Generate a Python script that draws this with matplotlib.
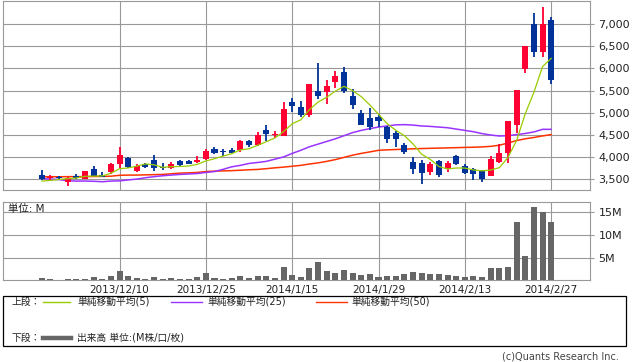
import matplotlib
matplotlib.use('Agg')
import matplotlib.pyplot as plt
from matplotlib.lines import Line2D
from matplotlib.patches import Rectangle
import numpy as np

plt.rcParams['font.family'] = ['DejaVu Sans', 'Noto Sans CJK JP']

# ---------------- data ----------------
dates = ['2013/11/27', '2013/11/28', '2013/11/29',
         '2013/12/2', '2013/12/3', '2013/12/4', '2013/12/5', '2013/12/6', '2013/12/9', '2013/12/10',
         '2013/12/11', '2013/12/12', '2013/12/13', '2013/12/16', '2013/12/17', '2013/12/18', '2013/12/19',
         '2013/12/20', '2013/12/24', '2013/12/25', '2013/12/26', '2013/12/27', '2013/12/30',
         '2014/1/6', '2014/1/7', '2014/1/8', '2014/1/9', '2014/1/10', '2014/1/14', '2014/1/15',
         '2014/1/16', '2014/1/17', '2014/1/20', '2014/1/21', '2014/1/22', '2014/1/23', '2014/1/24',
         '2014/1/27', '2014/1/28', '2014/1/29', '2014/1/30', '2014/1/31',
         '2014/2/3', '2014/2/4', '2014/2/5', '2014/2/6', '2014/2/7', '2014/2/10', '2014/2/12', '2014/2/13',
         '2014/2/14', '2014/2/17', '2014/2/18', '2014/2/19', '2014/2/20', '2014/2/21', '2014/2/24',
         '2014/2/25', '2014/2/26', '2014/2/27']

opens = [3590, 3515, 3550, 3425, 3567, 3500, 3718, 3590, 3650, 3844,
         3972, 3687, 3844, 3927, 3777, 3754, 3905, 3905, 3875, 3950,
         4174, 4136, 4159, 4152, 4354, 4264, 4602, 4505, 4473, 5231,
         5119, 4939, 5500, 5478, 5687, 5928, 5388, 4984, 4871, 4894,
         4676, 4550, 4264, 3889, 3853, 3664, 3911, 3725, 4024, 3799,
         3718, 3680, 3567, 3882, 4091, 4714, 5989, 7000, 6362, 7097]
highs = [3700, 3590, 3565, 3545, 3605, 3687, 3800, 3650, 3853, 4226,
         4010, 3830, 3866, 4040, 3853, 3882, 3927, 3920, 4017, 4190,
         4226, 4190, 4204, 4392, 4392, 4563, 4714, 4580, 5238, 5343,
         5253, 5658, 6114, 5748, 5935, 6025, 5539, 5051, 5096, 4977,
         4691, 4586, 4316, 4001, 3927, 3889, 3927, 3905, 4055, 3830,
         3740, 3702, 4024, 4287, 4804, 5523, 6512, 7261, 7389, 7164]
lows = [3489, 3478, 3480, 3350, 3500, 3493, 3567, 3538, 3620, 3740,
        3755, 3664, 3754, 3687, 3702, 3718, 3792, 3830, 3853, 3927,
        4062, 4017, 4078, 4114, 4226, 4242, 4354, 4428, 4473, 5013,
        4900, 4900, 5314, 5202, 5552, 5440, 5089, 4714, 4602, 4675,
        4316, 4226, 4062, 3612, 3388, 3590, 3552, 3664, 3815, 3606,
        3478, 3439, 3560, 3870, 3853, 4541, 5890, 6249, 6249, 5651]
closes = [3500, 3552, 3515, 3530, 3530, 3680, 3575, 3540, 3837, 4040,
          3763, 3792, 3777, 3740, 3754, 3837, 3815, 3830, 3927, 4136,
          4091, 4114, 4100, 4354, 4264, 4489, 4512, 4527, 5074, 5141,
          4939, 5658, 5388, 5613, 5838, 5485, 5164, 4714, 4669, 4804,
          4415, 4406, 4114, 3725, 3642, 3837, 3590, 3853, 3830, 3642,
          3612, 3493, 3943, 4100, 4804, 5523, 6512, 6362, 7000, 5748]

ma5 = [3455, 3470, 3490, 3510, 3525, 3561, 3566, 3571, 3632, 3734,
       3751, 3794, 3842, 3822, 3765, 3780, 3785, 3795, 3833, 3909,
       3960, 4020, 4074, 4159, 4185, 4264, 4344, 4429, 4573, 4749,
       4839, 5068, 5240, 5348, 5487, 5596, 5498, 5363, 5174, 4967,
       4753, 4602, 4482, 4293, 4060, 3945, 3782, 3729, 3750, 3750,
       3705, 3686, 3704, 3758, 3990, 4373, 4976, 5460, 6040, 6229]
ma25 = [3510, 3500, 3490, 3460, 3455, 3455, 3450, 3440, 3455, 3460,
        3480, 3500, 3530, 3555, 3575, 3590, 3605, 3615, 3625, 3650,
        3670, 3720, 3777, 3810, 3853, 3875, 3900, 3950, 4000, 4080,
        4150, 4230, 4290, 4350, 4410, 4480, 4550, 4600, 4640, 4676,
        4700, 4725, 4730, 4720, 4700, 4690, 4675, 4660, 4630, 4600,
        4570, 4527, 4495, 4473, 4480, 4505, 4530, 4565, 4624, 4624]
ma50 = [3552, 3552, 3552, 3555, 3555, 3555, 3558, 3560, 3565, 3585,
        3590, 3590, 3595, 3600, 3605, 3620, 3635, 3640, 3650, 3670,
        3680, 3685, 3690, 3700, 3710, 3718, 3735, 3754, 3770, 3790,
        3810, 3840, 3866, 3900, 3940, 3990, 4040, 4080, 4114, 4150,
        4160, 4168, 4175, 4185, 4190, 4195, 4200, 4205, 4210, 4215,
        4220, 4226, 4240, 4264, 4316, 4370, 4410, 4440, 4475, 4505]

volume_m = [0.44, 0.3, 0.1, 0.25, 0.25, 0.25, 0.6, 0.3, 0.9, 2.1,
            0.95, 0.45, 0.25, 0.65, 0.25, 0.45, 0.25, 0.25, 0.65, 1.6,
            0.45, 0.25, 0.45, 0.9, 0.45, 0.9, 0.9, 0.45, 2.9, 1.1,
            0.74, 2.7, 4.1, 2.1, 1.6, 2.2, 1.6, 1.1, 1.3, 0.67,
            0.9, 0.9, 1.3, 1.85, 1.6, 1.3, 1.3, 1.1, 0.9, 0.67,
            0.9, 0.67, 2.65, 2.65, 2.9, 12.9, 5.3, 16.2, 15.2, 12.9]

label_dates = ['2013/12/10', '2013/12/25', '2014/1/15', '2014/1/29', '2014/2/13', '2014/2/27']
price_ticks = [3500, 4000, 4500, 5000, 5500, 6000, 6500, 7000]
vol_ticks = [5, 10, 15]

legend_labels = ['単純移動平均(5)', '単純移動平均(25)', '単純移動平均(50)']
volume_label = '出来高 単位:(M株/口/枚)'

# ---------------- style ----------------
UP = '#ff0033'
DOWN = '#003399'
GRID = '#999999'
C_MA5 = '#99cc00'
C_MA25 = '#9933ff'
C_MA50 = '#ff3300'
VOL = '#666666'

W, H = 638, 362
fig = plt.figure(figsize=(W / 100, H / 100), dpi=100)


def rect(x0, y0, x1, y1):
    return [x0 / W, 1 - y1 / H, (x1 - x0) / W, (y1 - y0) / H]


ax = fig.add_axes(rect(3, 1, 590, 190))
axv = fig.add_axes(rect(3, 201.7, 590, 280))

x = np.arange(len(dates))
o = np.array(opens, float)
c = np.array(closes, float)
hi = np.array(highs, float)
lo = np.array(lows, float)
up = c >= o
colors = np.where(up, UP, DOWN)

# MA lines
ax.plot(x, ma50, color=C_MA50, lw=1.1, zorder=2)
ax.plot(x, ma25, color=C_MA25, lw=1.1, zorder=2)
# candles
ax.vlines(x, lo, hi, colors=colors, lw=1.3, zorder=3)
body_bottom = np.minimum(o, c)
body_h = np.maximum(np.abs(c - o), 12)
ax.bar(x, body_h, bottom=body_bottom, width=0.7, color=colors, zorder=4, linewidth=0)
ax.plot(x, ma5, color=C_MA5, lw=0.9, zorder=5)

xlim = (-4.5, 63.5)
tick_pos = [dates.index(d) for d in label_dates]

for a in (ax, axv):
    a.set_xlim(*xlim)
    a.set_xticks(tick_pos)
    a.grid(True, color=GRID, lw=0.8)
    a.set_axisbelow(True)
    for s in a.spines.values():
        s.set_color(GRID)
        s.set_linewidth(0.8)
    a.yaxis.tick_right()
    a.tick_params(axis='y', length=3, color=GRID, width=0.8, pad=3, labelsize=8, labelcolor='#222222')
    a.tick_params(axis='x', length=0, pad=3.5, labelsize=7.5, labelcolor='#222222')

ax.set_ylim(3253, 7524)
ax.set_yticks(price_ticks)
ax.set_yticklabels([f'{v:,}' for v in price_ticks])
ax.set_xticklabels([])

axv.bar(x, volume_m, width=0.7, color=VOL, linewidth=0, zorder=3)
axv.set_ylim(0, 17.4)
axv.set_yticks(vol_ticks)
axv.set_yticklabels([f'{v}M' for v in vol_ticks])
axv.set_xticklabels(label_dates)
axv.text(5 / 587, 1 - 7 / 78.3, '単位: M', transform=axv.transAxes, fontsize=7.5,
         va='center', ha='left', color='#222222', zorder=6)

# legend box
fig.patches.append(Rectangle((3 / W, 1 - 346 / H), 623 / W, 50 / H, transform=fig.transFigure,
                             fill=False, edgecolor='black', lw=0.9))


def fx(px):
    return px / W


def fy(py):
    return 1 - py / H


row1, row2 = 302, 337.5
fig.text(fx(11), fy(row1), '上段：', fontsize=7, va='center', ha='left', color='#222222')
fig.text(fx(11), fy(row2), '下段：', fontsize=7, va='center', ha='left', color='#222222')
leg = [(43, 70, 77, C_MA5), (171, 202, 207, C_MA25), (316, 347, 351, C_MA50)]
for (x0, x1, tx, col), lab in zip(leg, legend_labels):
    fig.add_artist(Line2D([fx(x0), fx(x1)], [fy(row1), fy(row1)], color=col, lw=1.0,
                          transform=fig.transFigure))
    fig.text(fx(tx), fy(row1), lab, fontsize=7, va='center', ha='left', color='#222222')
fig.add_artist(Line2D([fx(43), fx(71)], [fy(row2), fy(row2)], color=VOL, lw=3.2,
                      transform=fig.transFigure))
fig.text(fx(77), fy(row2), volume_label, fontsize=7, va='center', ha='left', color='#222222')

fig.text(fx(619), fy(356.5), '(c)Quants Research Inc.', fontsize=7, va='center', ha='right',
         color='#444444')

fig.savefig('out.png', dpi=100)
